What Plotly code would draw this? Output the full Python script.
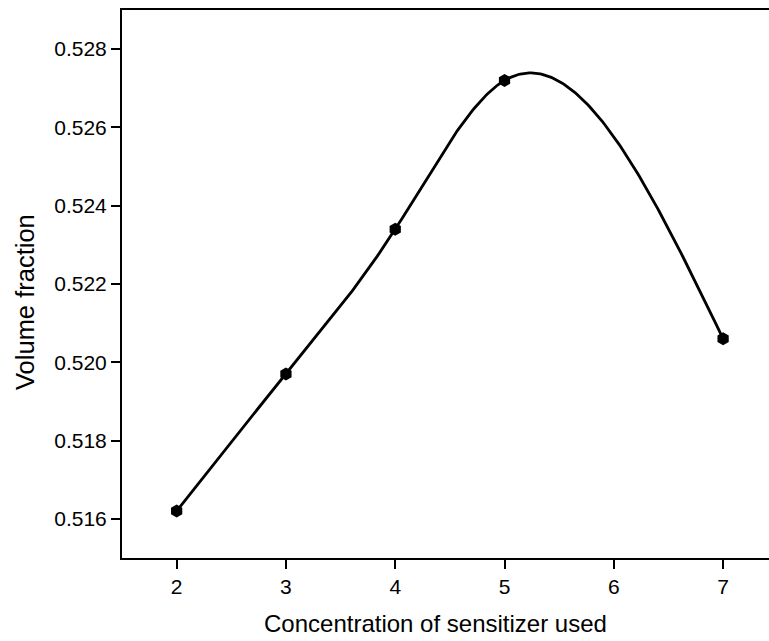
import numpy as np
import plotly.graph_objects as go

concentration = [2, 3, 4, 5, 7]
volume_fraction = [0.5162, 0.5197, 0.5234, 0.5272, 0.5206]
x_ticks = [2, 3, 4, 5, 6, 7]
y_ticks = [0.516, 0.518, 0.520, 0.522, 0.524, 0.526, 0.528]
x_title = "Concentration of sensitizer used"
y_title = "Volume fraction"


def natural_cubic_spline(xs, ys, n=300):
    """Smooth curve through the data points (natural cubic spline)."""
    xs = np.asarray(xs, float)
    ys = np.asarray(ys, float)
    k = len(xs)
    h = np.diff(xs)
    A = np.zeros((k, k))
    b = np.zeros(k)
    A[0, 0] = A[-1, -1] = 1.0
    for i in range(1, k - 1):
        A[i, i - 1] = h[i - 1]
        A[i, i] = 2 * (h[i - 1] + h[i])
        A[i, i + 1] = h[i]
        b[i] = 6 * ((ys[i + 1] - ys[i]) / h[i] - (ys[i] - ys[i - 1]) / h[i - 1])
    M = np.linalg.solve(A, b)
    xx = np.linspace(xs[0], xs[-1], n)
    yy = np.empty_like(xx)
    for j, x in enumerate(xx):
        i = min(np.searchsorted(xs, x, side="right") - 1, k - 2)
        t1 = xs[i + 1] - x
        t0 = x - xs[i]
        yy[j] = (M[i] * t1 ** 3 / (6 * h[i]) + M[i + 1] * t0 ** 3 / (6 * h[i])
                 + (ys[i] / h[i] - M[i] * h[i] / 6) * t1
                 + (ys[i + 1] / h[i] - M[i + 1] * h[i] / 6) * t0)
    return xx, yy


curve_x, curve_y = natural_cubic_spline(concentration, volume_fraction)

fig = go.Figure()
fig.add_trace(go.Scatter(
    x=curve_x, y=curve_y, mode="lines",
    line=dict(color="black", width=2.8),
    showlegend=False, hoverinfo="skip",
))
fig.add_trace(go.Scatter(
    x=concentration, y=volume_fraction, mode="markers",
    marker=dict(symbol="hexagon", size=13, color="black"),
    showlegend=False,
))

font = "Liberation Sans, Arial, sans-serif"
fig.update_layout(
    width=769, height=641,
    margin=dict(l=122, r=0, t=10, b=83),
    paper_bgcolor="white", plot_bgcolor="white",
    font=dict(family=font, color="black", size=16),
)
fig.update_xaxes(
    range=[1.5, 7.42], tickvals=x_ticks, ticktext=[str(v) for v in x_ticks],
    showgrid=False, zeroline=False, showline=True, linecolor="black", linewidth=2,
    mirror=True, ticks="outside", ticklen=9, tickwidth=2, tickcolor="black",
    tickfont=dict(size=21),
)
fig.update_yaxes(
    range=[0.515, 0.529], tickvals=y_ticks, ticktext=[f"{v:.3f}" for v in y_ticks],
    showgrid=False, zeroline=False, showline=True, linecolor="black", linewidth=2,
    ticks="outside", ticklen=9, tickwidth=2, tickcolor="black",
    tickfont=dict(size=21),
)
# axis titles, placed as in the reference (slightly off the plot-area centre)
fig.add_annotation(
    text=x_title, xref="paper", yref="paper",
    x=(435 - 122) / (769 - 122), y=(558 - 623) / (558 - 10),
    xanchor="center", yanchor="middle", showarrow=False,
    font=dict(size=24),
)
fig.add_annotation(
    text=y_title, xref="paper", yref="paper",
    x=(25 - 122) / (769 - 122), y=(558 - 302) / (558 - 10),
    xanchor="center", yanchor="middle", showarrow=False, textangle=-90,
    font=dict(size=25.5),
)
fig.write_html("out.html")
